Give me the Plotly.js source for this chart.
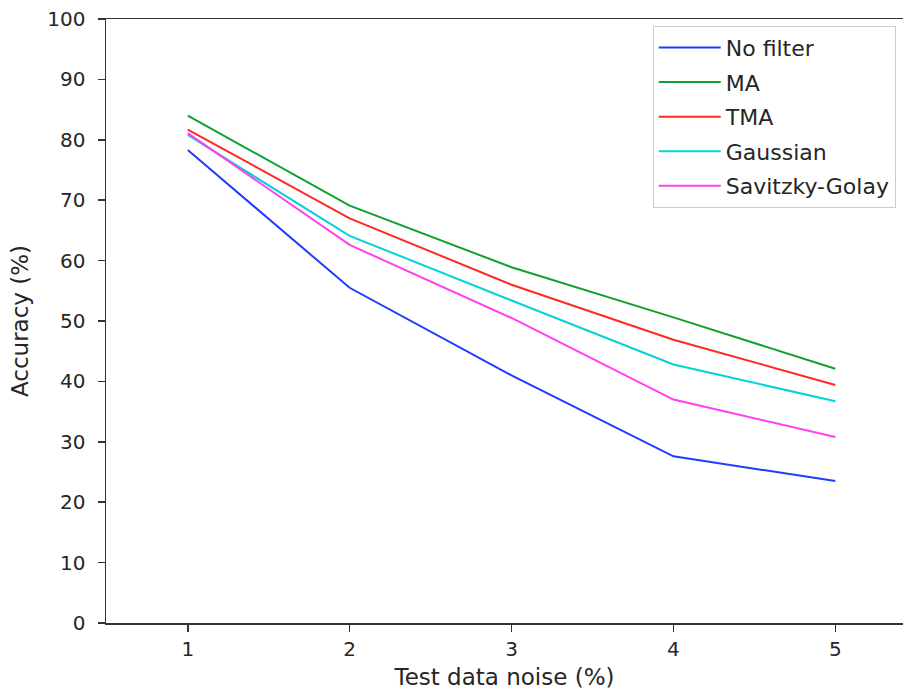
<!DOCTYPE html>
<html>
<head>
<meta charset="utf-8">
<script src="https://cdn.plot.ly/plotly-3.0.1.min.js"></script>
<style>html,body{margin:0;padding:0;background:#fff;}#chart{width:903px;height:690px;}</style>
</head>
<body>
<div id="chart"></div>
<script>
const noise = [1, 2, 3, 4, 5];
const seriesNames = ["No filter", "MA", "TMA", "Gaussian", "Savitzky-Golay"];
const noFilter = [78.3, 55.5, 41.0, 27.6, 23.5];
const ma = [84.0, 69.1, 58.9, 50.6, 42.1];
const tma = [81.7, 67.0, 56.0, 46.9, 39.4];
const gaussian = [80.8, 64.1, 53.4, 42.8, 36.7];
const savgol = [81.1, 62.6, 50.5, 37.0, 30.8];
const yTicks = [0, 10, 20, 30, 40, 50, 60, 70, 80, 90, 100];

const colors = ["#1f3cff", "#11a030", "#ff2a1f", "#00d4d8", "#ff3ff0"];
const allSeries = [noFilter, ma, tma, gaussian, savgol];

const traces = allSeries.map((ys, i) => ({
  x: noise,
  y: ys,
  type: "scatter",
  mode: "lines",
  name: seriesNames[i],
  legendgroup: "g" + i,
  line: {color: colors[i], width: 2}
}));

const tickFont = {family: "DejaVu Sans, sans-serif", size: 20, color: "#262626"};
const titleFont = {family: "DejaVu Sans, sans-serif", size: 23, color: "#262626"};

const layout = {
  width: 903,
  height: 690,
  margin: {l: 106, r: 0, t: 19, b: 67, pad: 0},
  paper_bgcolor: "#fff",
  plot_bgcolor: "#fff",
  font: tickFont,
  showlegend: true,
  legend: {
    x: 0.686, y: 0.989, xanchor: "left", yanchor: "top",
    bgcolor: "rgba(255,255,255,0.9)",
    bordercolor: "#cccccc", borderwidth: 1,
    font: {family: "DejaVu Sans, sans-serif", size: 22, color: "#262626"},
    tracegroupgap: 3,
    itemwidth: 62,
    traceorder: "grouped"
  },
  xaxis: {
    range: [0.495, 5.418],
    tickvals: noise,
    ticktext: noise.map(String),
    showgrid: false, zeroline: false,
    showline: true, linecolor: "#333", linewidth: 1.5,
    mirror: true,
    ticks: "outside", ticklen: 7, tickwidth: 1.5, tickcolor: "#333",
    tickfont: tickFont,
    title: {text: "Test data noise (%)", font: titleFont, standoff: 13}
  },
  yaxis: {
    range: [0, 100],
    tickvals: yTicks,
    showgrid: false, zeroline: false,
    showline: true, linecolor: "#333", linewidth: 1.5,
    ticks: "outside", ticklen: 7, tickwidth: 1.5, tickcolor: "#333",
    ticklabelstandoff: 8,
    tickfont: tickFont,
    title: {text: "Accuracy (%)", font: titleFont, standoff: 12}
  }
};

Plotly.newPlot("chart", traces, layout, {displayModeBar: false, staticPlot: true});
</script>
</body>
</html>
